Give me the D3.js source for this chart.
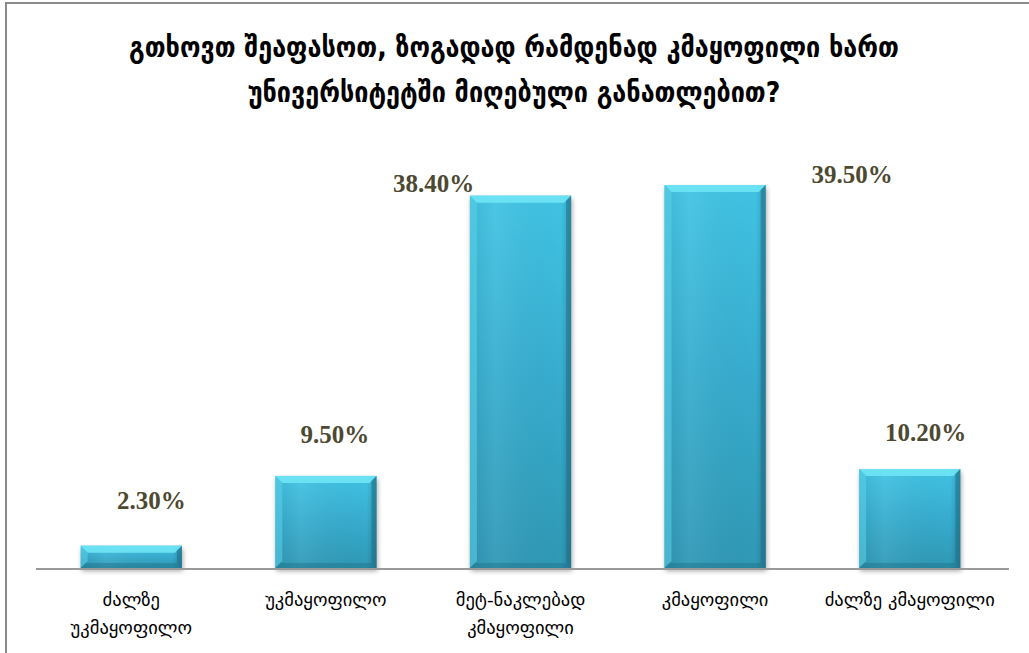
<!DOCTYPE html>
<html><head><meta charset="utf-8">
<script src="https://cdn.jsdelivr.net/npm/d3@7"></script>
<style>html,body{margin:0;padding:0;background:#fff;}svg{display:block;}</style>
</head><body>
<svg id="c" width="1029" height="653"></svg>
<script>
const titleLines = ["გთხოვთ შეაფასოთ, ზოგადად რამდენად კმაყოფილი ხართ", "უნივერსიტეტში მიღებული განათლებით?"];
const categories = ["ძალზე უკმაყოფილო", "უკმაყოფილო", "მეტ-ნაკლებად კმაყოფილი", "კმაყოფილი", "ძალზე კმაყოფილი"];
const categoryLines = [["ძალზე", "უკმაყოფილო"], ["უკმაყოფილო"], ["მეტ-ნაკლებად", "კმაყოფილი"], ["კმაყოფილი"], ["ძალზე კმაყოფილი"]];
const values = [2.3, 9.5, 38.4, 39.5, 10.2];
const valueLabels = ["2.30%", "9.50%", "38.40%", "39.50%", "10.20%"];
// label placement (layout, not data): horizontal / vertical offsets from bar top-center
const labelDx = [20, 9, -87, 137, 16];
const labelDy = [-37, -33, -4, -2, -28];

const svg = d3.select("#c");
const defs = svg.append("defs");
const g1 = defs.append("linearGradient").attr("id","barV").attr("x1",0).attr("y1",0).attr("x2",0).attr("y2",1);
g1.append("stop").attr("offset","0%").attr("stop-color","#41c3e3");
g1.append("stop").attr("offset","50%").attr("stop-color","#37acce");
g1.append("stop").attr("offset","100%").attr("stop-color","#2f98b5");
const g2 = defs.append("linearGradient").attr("id","barH").attr("x1",0).attr("y1",0).attr("x2",1).attr("y2",0);
g2.append("stop").attr("offset","0%").attr("stop-color","#000").attr("stop-opacity",0.05);
g2.append("stop").attr("offset","25%").attr("stop-color","#fff").attr("stop-opacity",0.06);
g2.append("stop").attr("offset","90%").attr("stop-color","#000").attr("stop-opacity",0.0);
g2.append("stop").attr("offset","100%").attr("stop-color","#000").attr("stop-opacity",0.18);
const f = defs.append("filter").attr("id","sh").attr("x","-20%").attr("y","-20%").attr("width","140%").attr("height","140%");
f.append("feGaussianBlur").attr("stdDeviation",2.5);

// border
svg.append("rect").attr("x",6).attr("y",3).attr("width",1100).attr("height",700)
  .attr("fill","none").attr("stroke","#8a8a8a").attr("stroke-width",2);

// title
const title = svg.append("text").attr("text-anchor","middle")
  .attr("font-family","'DejaVu Sans Condensed', 'DejaVu Sans', sans-serif")
  .attr("font-weight","bold").attr("font-size",28).attr("fill","#000");
titleLines.forEach((t,i)=>{
  title.append("tspan").attr("x",514).attr("y",57 + i*45).text(t);
});

const x = d3.scaleBand().domain(categories).range([34,1007]).paddingInner(0.48).paddingOuter(0.24);
const y = d3.scaleLinear().domain([0, 39.5]).range([568, 185]);

const bars = svg.append("g").selectAll("g").data(values).join("g");
const bw = x.bandwidth();
// shadow
bars.append("rect")
  .attr("x",(d,i)=>x(categories[i])+1).attr("y",d=>y(d)+3)
  .attr("width",bw).attr("height",d=>y(0)-y(d))
  .attr("fill","#000").attr("opacity",0.35).attr("filter","url(#sh)");
bars.append("rect")
  .attr("x",(d,i)=>x(categories[i])).attr("y",d=>y(d))
  .attr("width",bw).attr("height",d=>y(0)-y(d))
  .attr("fill","url(#barV)");
bars.append("rect")
  .attr("x",(d,i)=>x(categories[i])).attr("y",d=>y(d))
  .attr("width",bw).attr("height",d=>y(0)-y(d))
  .attr("fill","url(#barH)");
// top bevel
bars.append("path").attr("d",(d,i)=>{
  const x0 = x(categories[i]), x1 = x0 + bw, t = y(d), b = 7;
  return `M${x0},${t}L${x1},${t}L${x1-b},${t+b}L${x0+b},${t+b}Z`;
}).attr("fill","#6fe6f6").attr("opacity",0.9);
// left bevel
bars.append("path").attr("d",(d,i)=>{
  const x0 = x(categories[i]), t = y(d), bt = y(0), b = Math.min(7,(bt-t)/2);
  return `M${x0},${t}L${x0+b},${t+b}L${x0+b},${bt-b}L${x0},${bt}Z`;
}).attr("fill","#5dd3ea").attr("opacity",0.55);
// right bevel
bars.append("path").attr("d",(d,i)=>{
  const x1 = x(categories[i])+bw, t = y(d), bt = y(0), b = Math.min(5,(bt-t)/2);
  return `M${x1},${t}L${x1-b},${t+b}L${x1-b},${bt-b}L${x1},${bt}Z`;
}).attr("fill","#1f7088").attr("opacity",0.55);
// bottom bevel
bars.append("path").attr("d",(d,i)=>{
  const x0 = x(categories[i]), x1 = x0+bw, bt = y(0), b = 5;
  return `M${x0},${bt}L${x1},${bt}L${x1-b},${bt-b}L${x0+b},${bt-b}Z`;
}).attr("fill","#1f7088").attr("opacity",0.45);

// axis
const axis = d3.axisBottom(x).tickSize(0).tickFormat("");
const ax = svg.append("g").attr("transform","translate(0,569)").call(axis);
ax.select(".domain").attr("stroke","#9a9a9a").attr("stroke-width",2).attr("d","M36,0H1009");

// category labels
const cl = svg.append("g").selectAll("text").data(categories).join("text")
  .attr("text-anchor","middle").attr("font-family","'DejaVu Sans', sans-serif")
  .attr("font-size",18.5).attr("fill","#000");
cl.each(function(c,i){
  const t = d3.select(this);
  categoryLines[i].forEach((s,j)=>{
    t.append("tspan").attr("x",x(c)+bw/2).attr("y",606 + j*28).text(s);
  });
});

// value labels
svg.append("g").selectAll("text").data(values).join("text")
  .attr("x",(d,i)=>x(categories[i])+bw/2+labelDx[i])
  .attr("y",(d,i)=>y(d)+labelDy[i])
  .attr("text-anchor","middle")
  .attr("font-family","'Liberation Serif', serif").attr("font-weight","bold")
  .attr("font-size",25).attr("fill","#4d4830")
  .text((d,i)=>valueLabels[i]);
</script>
</body></html>
